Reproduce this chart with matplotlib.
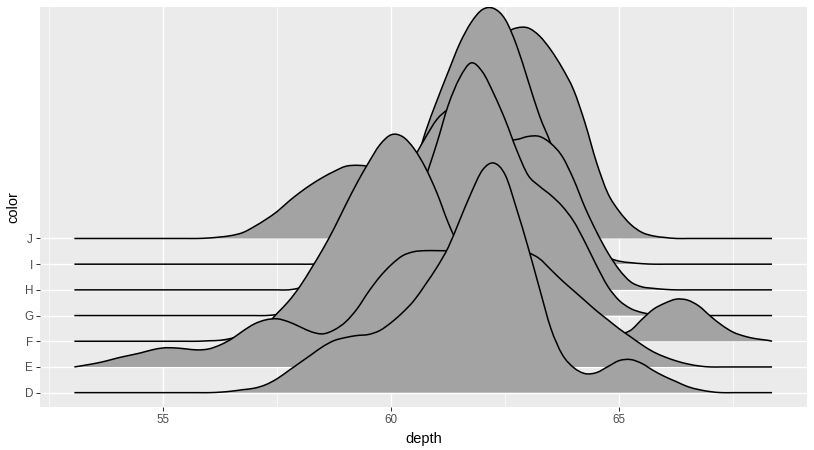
import numpy as np
import matplotlib
matplotlib.use("Agg")
import matplotlib.pyplot as plt
from matplotlib.path import Path
from matplotlib.patches import PathPatch

plt.rcParams["font.family"] = ["Liberation Sans", "DejaVu Sans"]

# --- depth grid the densities were read on ---
depth = np.r_[53.05, np.arange(53.25, 68.3, 0.25), 68.35]

colors = ["D", "E", "F", "G", "H", "I", "J"]

# --- ridge heights (relative density), one list per color ---
dens_D = [0, 0, 0, 0, 0, 0, 0, 0, 0, 0, 0, 0,
          0, 0.5, 1.5, 3, 4.5, 8, 14, 22, 30, 38, 46, 52,
          55, 57, 58, 62, 70, 80, 92, 108, 125, 145, 172, 199,
          222, 229, 217, 183, 145, 104, 64, 38, 25, 19, 20, 26,
          32, 33, 29, 22, 16, 11, 6, 3, 1, 0, 0, 0, 0, 0, 0]
dens_E = [0, 1.5, 3.5, 6, 9, 11.5, 14, 17, 19, 19, 18, 17,
          18, 22, 28, 36, 43, 47, 48, 45, 40, 35, 33, 37,
          45, 58, 75, 90, 102, 111, 115, 116, 116, 116, 117, 118,
          118, 118, 117, 116, 114, 108, 97, 86, 76, 66, 56, 47,
          38, 30, 22, 15, 10, 6, 3, 1, 0, 0, 0, 0, 0, 0, 0]
dens_F = [0, 0, 0, 0, 0, 0, 0, 0, 0, 0, 0, 0,
          0.5, 1, 3, 6, 10, 16, 28, 40, 55, 73, 92, 113,
          136, 158, 178, 196, 206, 204, 192, 173, 148, 118, 93, 73,
          57, 45, 35, 27, 21, 16, 12, 9, 7, 6, 5, 5.5,
          7, 11, 22, 32, 38, 42, 41, 35, 25, 16, 9, 5, 2.5, 1, 0]
dens_G = [0, 0, 0, 0, 0, 0, 0, 0, 0, 0, 0, 0,
          0, 0, 0, 0, 0, 0, 1, 2, 4, 7, 11, 17,
          25, 35, 47, 60, 75, 92, 112, 138, 172, 210, 237, 252,
          243, 221, 195, 165, 140, 129, 120, 109, 94, 73, 50, 29,
          15, 7, 3, 1, 0, 0, 0, 0, 0, 0, 0, 0, 0, 0, 0]
dens_H = [0, 0, 0, 0, 0, 0, 0, 0, 0, 0, 0, 0,
          0, 0, 0, 0, 0, 0, 0, 0, 2, 5, 10, 18,
          30, 44, 60, 77, 95, 113, 132, 152, 170, 180, 183, 178,
          168, 157, 150, 150, 153, 153, 146, 133, 110, 82, 58, 37,
          20, 8, 3, 1.5, 0.5, 0, 0, 0, 0, 0, 0, 0, 0, 0, 0]
dens_I = [0, 0, 0, 0, 0, 0, 0, 0, 0, 0, 0, 0,
          0, 0, 0, 0, 0, 0, 0, 0, 0, 0, 0.5, 1,
          3, 6, 12, 22, 37, 60, 95, 132, 163, 192, 220, 241,
          254, 255, 244, 218, 183, 148, 120, 85, 55, 32, 17, 7,
          3, 1.5, 0.5, 0, 0, 0, 0, 0, 0, 0, 0, 0, 0, 0, 0]
dens_J = [0, 0, 0, 0, 0, 0, 0, 0, 0, 0, 0, 0,
          0.5, 1.5, 3, 6, 12, 19, 27, 37, 46, 54, 61, 67,
          72, 73, 72, 70, 68, 68, 72, 82, 97, 117, 138, 160,
          180, 195, 205, 210, 210, 202, 188, 170, 148, 115, 76, 45,
          27, 14, 6, 2.5, 1, 0, 0, 0, 0, 0, 0, 0, 0, 0, 0]

ridges = [dens_D, dens_E, dens_F, dens_G, dens_H, dens_I, dens_J]

RIDGE_SCALE = 9.95   # height of the tallest ridge, in rows
FILL = "#A3A3A3"


def smooth_path(x, y):
    # catmull-rom through the read points, as cubic bezier pieces
    p = np.column_stack([x, y])
    pp = np.vstack([p[0], p, p[-1]])
    verts = [p[0]]
    codes = [Path.MOVETO]
    for i in range(len(p) - 1):
        p0, p1, p2, p3 = pp[i], pp[i + 1], pp[i + 2], pp[i + 3]
        verts += [p1 + (p2 - p0) / 6, p2 - (p3 - p1) / 6, p2]
        codes += [Path.CURVE4] * 3
    return verts, codes


fig = plt.figure(figsize=(8.14, 4.5), dpi=100)
ax = fig.add_axes([40 / 814, 1 - 407.3 / 450, 766.7 / 814, 400.6 / 450])
ax.set_facecolor("#EBEBEB")

dmax = max(max(d) for d in ridges)

# draw from the top row down so lower ridges sit in front
for k in range(len(colors) - 1, -1, -1):
    base = k + 1
    h = np.array(ridges[k]) / dmax * RIDGE_SCALE
    z = 10 + (len(colors) - k) * 2
    verts, codes = smooth_path(depth, base + h)

    fv = verts + [(depth[-1], base), (depth[0], base), (depth[0], base)]
    fc = codes + [Path.LINETO, Path.LINETO, Path.CLOSEPOLY]
    ax.add_patch(PathPatch(Path(fv, fc), facecolor=FILL, edgecolor="none",
                           lw=0, zorder=z))
    ax.add_patch(PathPatch(Path(verts, codes), facecolor="none",
                           edgecolor="black", lw=1.1, zorder=z + 1,
                           capstyle="butt", joinstyle="round"))

ax.set_xlim(52.296, 69.11)
ax.set_ylim(0.43, 16.02)

ax.set_xticks([55, 60, 65])
ax.set_xticks([52.5, 57.5, 62.5, 67.5], minor=True)
ax.set_yticks(range(1, len(colors) + 1))
ax.set_yticklabels(colors)

ax.set_axisbelow(True)
ax.grid(which="major", color="white", lw=1.0)
ax.grid(which="minor", axis="x", color="white", lw=0.5)

for s in ax.spines.values():
    s.set_visible(False)

ax.tick_params(which="major", length=3.0, width=0.75, color="#333333",
               labelsize=8.4, labelcolor="#4D4D4D", pad=2)
ax.tick_params(which="minor", length=0)

ax.set_xlabel("depth", fontsize=10.5, labelpad=4.5)
ax.set_ylabel("color", fontsize=10.5, labelpad=2.5)

fig.savefig("out.png", dpi=100)
